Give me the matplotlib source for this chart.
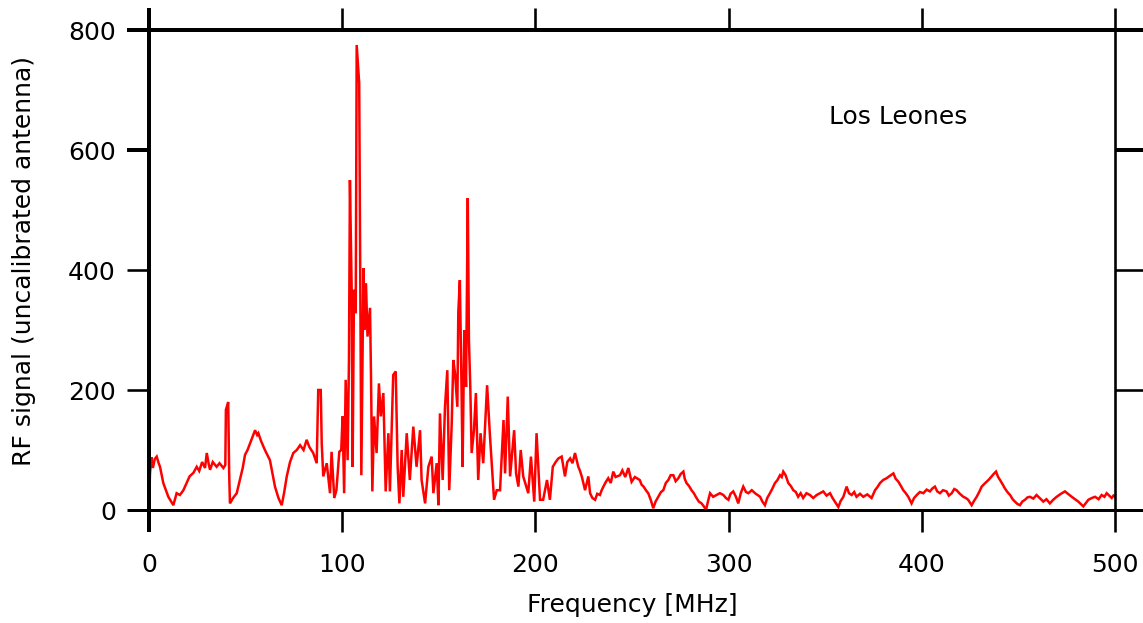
import matplotlib
matplotlib.use("Agg")
import matplotlib.pyplot as plt

plt.rcParams['font.family'] = ['DejaVu Sans']

# ---- data ----
freq_a = [0, 0.5, 1.2, 2, 3, 4, 5, 5.7, 7.4, 10,
          12.6, 14.3, 16, 17.8, 19.5, 21, 23, 24.7, 26, 27.5,
          29, 29.9, 31, 31.6, 33, 35, 36.5, 38.5, 39.5, 39.8,
          41, 41.5, 41.9, 43.5, 45.4, 47, 48.5, 49.7, 51, 52.3,
          54, 54.9, 56, 56.6, 58, 60, 62.6, 65.2, 67, 68.7,
          70, 71.3, 73, 74.7, 76.5, 78.2, 80, 81.6, 83, 85,
          86.8, 87.6, 88, 88.9, 89.4, 90.2, 92, 93.7, 94.5, 95.9]
sig_a = [0, 60, 88, 70, 85, 89, 78, 72, 45, 22,
         8, 28, 25, 33, 45, 56, 62, 72, 65, 80,
         70, 95, 75, 67, 80, 72, 78, 70, 75, 167,
         180, 60, 11, 20, 28, 50, 70, 92, 100, 111,
         125, 133, 125, 128, 115, 100, 83, 39, 20, 8,
         30, 56, 80, 95, 100, 108, 100, 117, 105, 95,
         78, 200, 200, 200, 111, 56, 78, 28, 97, 20]

freq_b = [97, 98.5, 99.5, 100.2, 101, 101.8, 102.8, 103.5, 104, 104.9,
          105.4, 106.1, 107, 107.5, 108.8, 109.9, 111, 111.4, 112.3, 113.1,
          114.4, 114.9, 115.6, 116.5, 117.8, 119, 120, 121.3, 122.5, 123.9,
          124.7, 126.4, 127.7, 128.7, 129.6, 130.8, 131.6, 133.4, 135, 136.8,
          138.5, 140.3, 141.1, 142.9, 144.6, 146.3, 147.2, 148.9, 149.8, 150.6,
          152, 153.2, 154.4, 155.4, 156.7, 157.5, 158.4, 159.6, 160.1, 160.9,
          161.8, 162.3, 163.2, 164.1, 165, 165.6, 166.3, 167, 168.2, 169.2,
          170.4, 171.6, 173, 175, 176.4, 178.6, 180, 181.7, 183.5, 184.3,
          185.7, 186.9, 189, 190, 191.2, 192.4, 193.7, 196.3, 197.7, 199.4]
sig_b = [33, 97, 100, 156, 28, 217, 83, 250, 550, 367,
         72, 367, 328, 775, 711, 58, 403, 300, 378, 289,
         337, 225, 31, 156, 95, 211, 156, 195, 31, 128,
         31, 225, 231, 72, 11, 100, 22, 128, 50, 139,
         72, 133, 50, 11, 72, 89, 28, 78, 8, 161,
         50, 172, 233, 33, 145, 250, 228, 172, 330, 383,
         195, 72, 300, 205, 520, 283, 205, 95, 133, 195,
         50, 128, 78, 208, 128, 17, 33, 33, 150, 61,
         189, 56, 133, 61, 39, 100, 56, 28, 89, 14]

freq_c = [200.6, 202.4, 204, 206, 207.5, 209, 210.5, 211.9, 213.6, 215.3,
          216.5, 218, 219.2, 220.5, 222.2, 223, 224, 225.7, 227.4, 228.3,
          229.5, 230.9, 232, 233.4, 234.3, 235.2, 236.5, 237.7, 239, 240.3,
          241.5, 243.8, 245, 246.5, 248.1, 249, 249.8, 251.5, 254, 255,
          256, 257.2, 258.4, 259.7, 261, 262.2, 263.6, 265, 266.2, 267.5,
          268.8, 270, 271.4, 272.6, 274, 275.2, 276.6, 277.3, 278.2, 279.5,
          280.8, 282, 283.4, 284.6, 286, 287.2, 288.3, 289.3, 290.4, 292,
          293.8, 295.5, 297.3, 298.6, 299.9, 301, 302.4, 303.8, 305, 306.3,
          307.6, 309, 310.2, 312, 313.7, 315, 316.3, 317.5, 318.8, 320,
          321.4, 322.7, 324, 325.3, 326.6, 327.5, 328.3, 329.5, 330.9, 332.2,
          333.5, 334.8, 336, 337.3, 338.6, 340.3, 342.1, 343.8, 345.6]
sig_c = [128, 17, 17, 50, 17, 72, 80, 86, 89, 56,
         80, 86, 78, 95, 72, 66, 56, 33, 56, 28,
         20, 17, 27, 25, 33, 39, 47, 53, 45, 64,
         55, 58, 66, 55, 70, 58, 47, 55, 50, 42,
         39, 33, 28, 17, 3, 14, 22, 30, 33, 45,
         50, 58, 58, 48, 53, 60, 64, 52, 45, 40,
         33, 28, 20, 14, 11, 6, 0, 14, 28, 22,
         25, 28, 25, 20, 17, 27, 31, 22, 11, 28,
         39, 30, 28, 33, 28, 25, 22, 14, 8, 20,
         28, 36, 45, 50, 58, 55, 64, 58, 45, 40,
         33, 30, 22, 28, 20, 28, 25, 20, 25]

freq_d = [347.3, 349, 350.7, 352.5, 353.8, 355, 356.8, 358, 359.4, 361.1,
          362.3, 363.7, 365, 366.2, 368, 369.7, 371.8, 374, 375.8, 377,
          378.4, 380, 381.8, 383.5, 385.3, 386.5, 387.9, 389.2, 390.4, 391.7,
          393, 394.7, 396, 397.4, 399, 400.8, 402.5, 404.2, 405.5, 406.8,
          408, 409.4, 411, 412.8, 414, 415.5, 416.8, 418, 419.7, 421.5,
          422.8, 424, 425.8, 427, 428.4, 429.7, 431, 432.2, 433.5, 434.8,
          436.1, 437.2, 438.4, 439.5, 440.5, 441.8, 443, 444.3, 445.7, 447,
          448.2, 449.5, 450.8, 452, 453.4, 454.7, 456, 457.7, 459.4, 461,
          462.9, 464.5, 466.3, 468, 469.8, 472, 474.1, 476, 477.6, 479.3,
          481, 482.3, 483.6, 485, 486.2, 488, 489.7, 491.5, 493.1, 494.5,
          495.7, 497, 498.3, 499.2, 500]
sig_d = [28, 31, 24, 28, 20, 14, 5, 15, 22, 39,
         28, 25, 30, 22, 27, 22, 26, 20, 33, 38,
         45, 50, 53, 57, 61, 52, 47, 40, 33, 28,
         22, 11, 20, 25, 30, 28, 34, 31, 36, 39,
         31, 28, 33, 31, 24, 28, 35, 33, 27, 22,
         20, 17, 8, 15, 22, 30, 39, 43, 47, 51,
         56, 60, 64, 55, 50, 43, 36, 30, 25, 18,
         14, 10, 8, 14, 17, 21, 22, 19, 25, 20,
         14, 18, 11, 17, 22, 27, 31, 26, 22, 18,
         14, 10, 6, 12, 17, 20, 22, 18, 25, 22,
         28, 24, 20, 24, 22]

freq = freq_a + freq_b + freq_c + freq_d
signal = sig_a + sig_b + sig_c + sig_d
assert len(freq) == len(signal)

x_ticks = [0, 100, 200, 300, 400, 500]
y_ticks = [0, 200, 400, 600, 800]
station = "Los Leones"

# ---- figure ----
W, H, DPI = 1143, 623, 100
fig = plt.figure(figsize=(W / DPI, H / DPI), dpi=DPI)
ax = fig.add_axes([149 / W, 1 - 510 / H, (1115 - 149) / W, (510 - 30) / H])

ax.plot(freq, signal, color='#ff0000', lw=1.8, solid_joinstyle='miter')

ax.set_xlim(0, 500)
ax.set_ylim(0, 800)
ax.set_xticks(x_ticks)
ax.set_yticks(y_ticks)

px = 72 / DPI
ax.spines['left'].set_linewidth(4 * px)
ax.spines['top'].set_linewidth(4 * px)
ax.spines['bottom'].set_linewidth(3 * px)
ax.spines['right'].set_linewidth(2.6 * px)
for s in ax.spines.values():
    s.set_capstyle('butt')

ax.tick_params(axis='x', which='major', direction='out', top=True, bottom=True,
               length=22 * px, width=2.6 * px, labelsize=18, pad=15)
ax.tick_params(axis='y', which='major', direction='out', left=True, right=True,
               length=22 * px, width=2.6 * px, labelsize=18, pad=8)

# thicker ticks where the frame extends
for i, t in enumerate(ax.xaxis.get_major_ticks()):
    if i == 0:
        t.tick1line.set_markeredgewidth(4 * px)
        t.tick2line.set_markeredgewidth(4 * px)
for i, t in enumerate(ax.yaxis.get_major_ticks()):
    t.tick2line.set_markersize(28 * px)
    if y_ticks[i] >= 600:
        t.tick1line.set_markeredgewidth(4 * px)
        t.tick2line.set_markeredgewidth(4 * px)
    elif y_ticks[i] == 0:
        t.tick1line.set_markeredgewidth(3 * px)
        t.tick2line.set_markeredgewidth(3 * px)

ax.set_xlabel("Frequency [MHz]", fontsize=18)
ax.set_ylabel("RF signal (uncalibrated antenna)", fontsize=18)
ax.xaxis.set_label_coords(0.5, (510 - 593) / 480)
ax.yaxis.set_label_coords((36 - 149) / 966, (510 - 261) / 480)

ax.text(388, 655, station, fontsize=18, ha='center', va='center')

fig.savefig("out.png", dpi=DPI)
